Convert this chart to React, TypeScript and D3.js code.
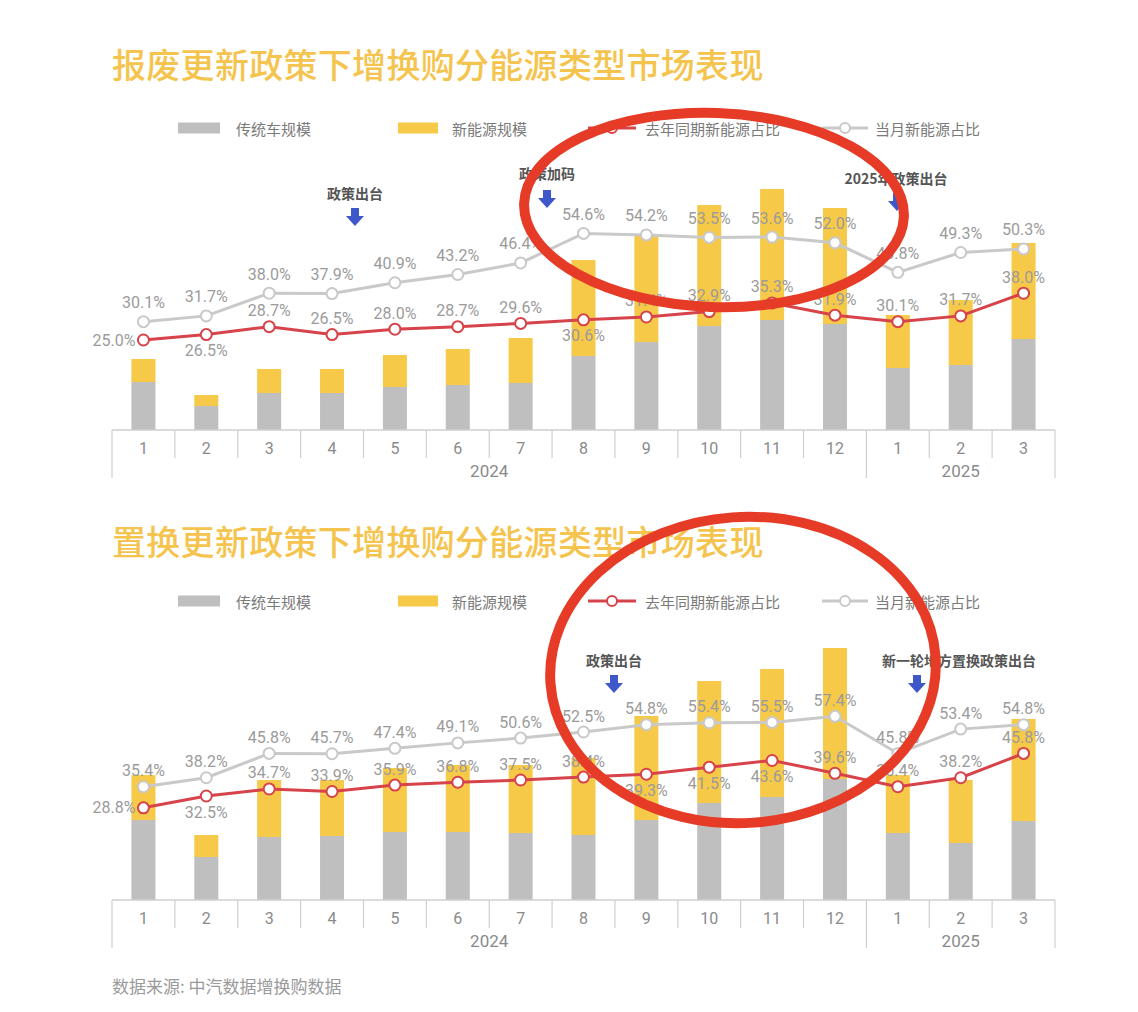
import React from 'react';
import * as d3 from 'd3';

const months = ['1', '2', '3', '4', '5', '6', '7', '8', '9', '10', '11', '12', '1', '2', '3'];
const years = [
  { label: '2024', start: 0, end: 12 },
  { label: '2025', start: 12, end: 15 },
];

// 报废更新 chart
const scrapTrad = [48, 24, 37, 37, 43, 45, 47, 74, 88, 104, 110, 106, 62, 65, 91];
const scrapNev = [23, 11, 24, 24, 32, 36, 45, 96, 107, 121, 131, 116, 53, 65, 96];
const scrapShare = [30.1, 31.7, 38.0, 37.9, 40.9, 43.2, 46.4, 54.6, 54.2, 53.5, 53.6, 52.0, 43.8, 49.3, 50.3];
const scrapPrev = [25.0, 26.5, 28.7, 26.5, 28.0, 28.7, 29.6, 30.6, 31.4, 32.9, 35.3, 31.9, 30.1, 31.7, 38.0];
const scrapPrevPos = ['left', 'below', 'above', 'above', 'above', 'above', 'above', 'below', 'above', 'above', 'above', 'above', 'above', 'above', 'above'];

// 置换更新 chart
const replTrad = [80, 43, 63, 64, 68, 68, 67, 65, 80, 97, 103, 121, 67, 57, 79];
const replNev = [45, 22, 57, 56, 64, 67, 68, 77, 104, 122, 128, 131, 58, 63, 102];
const replShare = [35.4, 38.2, 45.8, 45.7, 47.4, 49.1, 50.6, 52.5, 54.8, 55.4, 55.5, 57.4, 45.8, 53.4, 54.8];
const replPrev = [28.8, 32.5, 34.7, 33.9, 35.9, 36.8, 37.5, 38.4, 39.3, 41.5, 43.6, 39.6, 35.4, 38.2, 45.8];
const replPrevPos = ['left', 'below', 'above', 'above', 'above', 'above', 'above', 'above', 'below', 'below', 'below', 'above', 'above', 'above', 'above'];

const legendLabels = ['传统车规模', '新能源规模', '去年同期新能源占比', '当月新能源占比'];

const C = {
  title: '#f5c44e',
  gray: '#bfbfbf',
  yellow: '#f7c948',
  red: '#d7434b',
  line: '#c9c9c9',
  label: '#9b9b9b',
  axis: '#cfcfcf',
  tick: '#8a8a8a',
  legend: '#7a7a7a',
  note: '#555555',
  arrow: '#3f58c9',
  ellipse: '#e63b26',
};

const FONT = '"Noto Sans CJK SC", "Noto Sans", sans-serif';
const NUMFONT = 'Roboto, "Noto Sans", sans-serif';

const X0 = 112;
const X1 = 1055;
const x = d3.scaleBand<number>().domain(d3.range(months.length)).range([X0, X1]).paddingInner(0).paddingOuter(0);

type Note = { text: string; tx: number; ty: number; ax: number; ay: number };

function Arrow({ x: cx, y }: { x: number; y: number }) {
  const p = d3.path();
  p.moveTo(cx - 4, y);
  p.lineTo(cx + 4, y);
  p.lineTo(cx + 4, y + 8);
  p.lineTo(cx + 9, y + 8);
  p.lineTo(cx, y + 18);
  p.lineTo(cx - 9, y + 8);
  p.lineTo(cx - 4, y + 8);
  p.closePath();
  return <path d={p.toString()} fill={C.arrow} />;
}

function Chart(props: {
  title: string;
  titleY: number;
  legendY: number;
  base: number;
  pxPerPct: number;
  trad: number[];
  nev: number[];
  share: number[];
  prev: number[];
  prevPos: string[];
  shareOffset: number;
  notes: Note[];
}) {
  const { title, titleY, legendY, base, pxPerPct, trad, nev, share, prev, prevPos, shareOffset, notes } = props;
  const yBar = d3.scaleLinear().domain([0, 250]).range([base, base - 250]);
  const yPct = d3.scaleLinear().domain([0, 100]).range([base, base - 100 * pxPerPct]);
  const cx = (i: number) => (x(i) as number) + x.bandwidth() / 2;
  const lineGen = d3
    .line<number>()
    .x((_, i) => cx(i))
    .y((d) => yPct(d));
  const barW = 24;

  return (
    <g>
      <text x={X0} y={titleY} fill={C.title} fontSize={34} fontWeight={500} fontFamily={FONT} letterSpacing={0.3}>
        {title}
      </text>
      {/* legend */}
      <g fontFamily={FONT} fontSize={15} fill={C.legend}>
        <rect x={178} y={legendY - 5.5} width={42} height={11} fill={C.gray} />
        <text x={236} y={legendY} dominantBaseline="central">{legendLabels[0]}</text>
        <rect x={398} y={legendY - 5.5} width={40} height={11} fill={C.yellow} />
        <text x={452} y={legendY} dominantBaseline="central">{legendLabels[1]}</text>
        <line x1={588} x2={636} y1={legendY} y2={legendY} stroke={C.red} strokeWidth={3} />
        <circle cx={612} cy={legendY} r={5} fill="#fff" stroke={C.red} strokeWidth={2} />
        <text x={645} y={legendY} dominantBaseline="central">{legendLabels[2]}</text>
        <line x1={822} x2={868} y1={legendY} y2={legendY} stroke={C.line} strokeWidth={3} />
        <circle cx={845} cy={legendY} r={5} fill="#fff" stroke={C.line} strokeWidth={2} />
        <text x={875} y={legendY} dominantBaseline="central">{legendLabels[3]}</text>
      </g>
      {/* bars */}
      {months.map((_, i) => (
        <g key={'b' + i}>
          <rect x={cx(i) - barW / 2} y={yBar(trad[i])} width={barW} height={base - yBar(trad[i])} fill={C.gray} />
          <rect
            x={cx(i) - barW / 2}
            y={yBar(trad[i] + nev[i])}
            width={barW}
            height={yBar(trad[i]) - yBar(trad[i] + nev[i])}
            fill={C.yellow}
          />
        </g>
      ))}
      {/* axis */}
      <line x1={X0} x2={X1} y1={base} y2={base} stroke={C.axis} strokeWidth={1.5} />
      {d3.range(months.length + 1).map((i) => {
        const xx = i === months.length ? X1 : (x(i) as number);
        const long = i === 0 || i === 12 || i === months.length;
        return <line key={'t' + i} x1={xx} x2={xx} y1={base} y2={base + (long ? 48 : 28)} stroke={C.axis} strokeWidth={1.2} />;
      })}
      <g fontFamily={NUMFONT} fontSize={16} fill={C.tick} textAnchor="middle">
        {months.map((m, i) => (
          <text key={'m' + i} x={cx(i)} y={base + 18} dominantBaseline="central">
            {m}
          </text>
        ))}
        {years.map((yr) => (
          <text
            key={yr.label}
            x={((x(yr.start) as number) + (yr.end === months.length ? X1 : (x(yr.end) as number))) / 2}
            y={base + 41}
            fontSize={17}
            dominantBaseline="central"
          >
            {yr.label}
          </text>
        ))}
      </g>
      {/* lines */}
      <path d={lineGen(share) || ''} fill="none" stroke={C.line} strokeWidth={3} />
      <path d={lineGen(prev) || ''} fill="none" stroke={C.red} strokeWidth={3} />
      {share.map((v, i) => (
        <circle key={'sc' + i} cx={cx(i)} cy={yPct(v)} r={5.5} fill="#fff" stroke={C.line} strokeWidth={2} />
      ))}
      {prev.map((v, i) => (
        <circle key={'pc' + i} cx={cx(i)} cy={yPct(v)} r={5.5} fill="#fff" stroke={C.red} strokeWidth={2} />
      ))}
      <g fontFamily={NUMFONT} fontSize={16} fill={C.label} textAnchor="middle">
        {share.map((v, i) => (
          <text key={'sl' + i} x={cx(i)} y={yPct(v) - shareOffset} dominantBaseline="central">
            {v.toFixed(1) + '%'}
          </text>
        ))}
        {prev.map((v, i) => {
          const pos = prevPos[i];
          const px = pos === 'left' ? cx(i) - 8 : cx(i);
          const py = pos === 'below' ? yPct(v) + 16 : pos === 'left' ? yPct(v) : yPct(v) - 16;
          return (
            <text key={'pl' + i} x={px} y={py} textAnchor={pos === 'left' ? 'end' : 'middle'} dominantBaseline="central">
              {v.toFixed(1) + '%'}
            </text>
          );
        })}
      </g>
      {/* notes */}
      {notes.map((n, i) => (
        <g key={'n' + i}>
          <text x={n.tx} y={n.ty} textAnchor="middle" dominantBaseline="central" fontFamily={FONT} fontSize={14} fontWeight={700} fill={C.note}>
            {n.text}
          </text>
          <Arrow x={n.ax} y={n.ay} />
        </g>
      ))}
    </g>
  );
}

const scrapNotes: Note[] = [
  { text: '政策出台', tx: 355, ty: 193, ax: 355, ay: 208 },
  { text: '政策加码', tx: 547, ty: 173, ax: 547, ay: 190 },
  { text: '2025年政策出台', tx: 896, ty: 178, ax: 897, ay: 193 },
];
const replNotes: Note[] = [
  { text: '政策出台', tx: 614, ty: 660, ax: 614, ay: 675 },
  { text: '新一轮地方置换政策出台', tx: 959, ty: 660, ax: 917, ay: 675 },
];

export default function App() {
  return (
    <div style={{ position: 'absolute', left: 0, top: 0 }}>
      <svg width={1138} height={1012} style={{ display: 'block', background: '#fff' }}>
        <Chart
          title="报废更新政策下增换购分能源类型市场表现"
          titleY={78}
          legendY={128}
          base={430}
          pxPerPct={3.6}
          trad={scrapTrad}
          nev={scrapNev}
          share={scrapShare}
          prev={scrapPrev}
          prevPos={scrapPrevPos}
          shareOffset={19}
          notes={scrapNotes}
        />
        <Chart
          title="置换更新政策下增换购分能源类型市场表现"
          titleY={555}
          legendY={601}
          base={900}
          pxPerPct={3.2}
          trad={replTrad}
          nev={replNev}
          share={replShare}
          prev={replPrev}
          prevPos={replPrevPos}
          shareOffset={16}
          notes={replNotes}
        />
        <text x={112} y={985} fontFamily={FONT} fontSize={17} fill="#9a9a9a" dominantBaseline="central">
          数据来源: 中汽数据增换购数据
        </text>
        {/* hand-drawn highlight ellipses */}
        <ellipse cx={714} cy={210} rx={190} ry={97} fill="none" stroke={C.ellipse} strokeWidth={10} transform="rotate(2 714 210)" />
        <ellipse cx={743} cy={670} rx={193} ry={153} fill="none" stroke={C.ellipse} strokeWidth={10} transform="rotate(-4 743 670)" />
      </svg>
    </div>
  );
}
